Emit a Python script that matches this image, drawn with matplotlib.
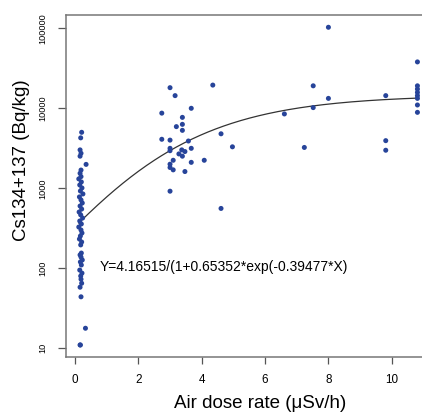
import numpy as np
import matplotlib.pyplot as plt

plt.rcParams['font.family'] = ['Liberation Sans', 'DejaVu Sans']

# Nahe der Quelle (<0.4 uSv/h)
dose_low = [0.21, 0.18, 0.16, 0.19, 0.16, 0.35, 0.19, 0.16, 0.19,
            0.12, 0.20, 0.15, 0.22, 0.17, 0.25, 0.14, 0.19, 0.23, 0.16,
            0.21, 0.13, 0.18, 0.24, 0.15, 0.20, 0.12, 0.19, 0.22, 0.17,
            0.14, 0.21, 0.18, 0.20, 0.16, 0.19, 0.23, 0.17, 0.20, 0.15,
            0.22, 0.18, 0.19, 0.21, 0.16, 0.19, 0.17, 0.33, 0.16]
cs_low = [5010, 4270, 3020, 2740, 2520, 1990, 1690, 1540, 1400,
          1310, 1200, 1100, 1010, 925, 850, 780, 715, 655, 600,
          550, 505, 465, 425, 390, 358, 328, 301, 276, 253,
          232, 213, 196, 155, 147, 138, 127, 120, 110, 95,
          87, 80, 73, 65, 58, 44, 11, 17.8, 11.0]

# 2.5 - 5 uSv/h
dose_mid = [3.00, 3.16, 4.35, 2.74, 3.67, 3.39, 3.39, 3.20, 3.39, 2.74,
            3.00, 3.58, 4.61, 4.97, 3.00, 3.00, 3.37, 3.47, 3.28, 3.39,
            3.67, 3.10, 4.08, 3.00, 3.00, 3.10, 3.67, 3.47, 3.00, 4.61]
cs_mid = [18100, 14400, 19500, 8700, 10000, 7700, 6300, 5900, 5300, 4100,
          4000, 3900, 4800, 3300, 3160, 2950, 3020, 2880, 2690, 2520,
          3160, 2240, 2240, 2000, 1820, 1700, 2110, 1620, 920, 560]

# > 6 uSv/h
dose_high = [7.52, 8.00, 7.52, 6.61, 7.24, 9.81, 9.81, 9.81, 8.00,
             10.81, 10.81, 10.81, 10.81, 10.81, 10.81, 10.81, 10.81]
cs_high = [19100, 13300, 10200, 8500, 3240, 14400, 3940, 2990, 103000,
           38000, 19100, 17400, 15800, 14400, 13300, 11000, 8900]

# Anpassung (log10-Skala): Y = a/(1+b*exp(-c*X))
fit_a, fit_b, fit_c = 4.16515, 0.65352, 0.39477
fit_label = "Y=4.16515/(1+0.65352*exp(-0.39477*X)"

x_all = np.array(dose_low + dose_mid + dose_high)
y_all = np.array(cs_low + cs_mid + cs_high)

fig = plt.figure(figsize=(4.22, 4.15), dpi=100)
W, H = 422, 415
# Achse breiter als die Figur (rechter Rand ist im Original abgeschnitten)
left_px, right_px, top_px, bot_px = 66, 432, 14.7, 357
ax = fig.add_axes([left_px / W, 1 - bot_px / H,
                   (right_px - left_px) / W, (bot_px - top_px) / H])

ax.scatter(x_all, y_all, s=13, color='#27449a', edgecolors='none', zorder=3)

xx = np.linspace(x_all.min(), x_all.max(), 300)
ax.plot(xx, 10 ** (fit_a / (1 + fit_b * np.exp(-fit_c * xx))),
        color='#333333', lw=0.9, zorder=2)

ax.set_yscale('log')
ax.set_xlim(-0.284, 11.27)
ax.set_ylim(10 ** 0.891, 10 ** 5.17)
ax.set_xticks([0, 2, 4, 6, 8, 10])
ax.set_yticks([10, 100, 1000, 10000, 100000])
ax.set_yticklabels(['10', '100', '1000', '10000', '100000'],
                   rotation=90, va='center', fontsize=6.6)
ax.minorticks_off()
ax.tick_params(axis='x', labelsize=8.4, length=5, width=0.9,
               color='#555555', pad=7)
ax.tick_params(axis='y', length=5.5, width=0.9, color='#555555', pad=8)

for side in ['left', 'bottom', 'top']:
    ax.spines[side].set_color('#777777')
    ax.spines[side].set_linewidth(1.1)
ax.spines['right'].set_visible(False)

ax.text(0.79, 10 ** 2.02, fit_label, fontsize=10, va='center', ha='left')

fig.text(260 / W, 1 - 403 / H, 'Air dose rate (\u03bcSv/h)',
         ha='center', va='center', fontsize=13.5)
fig.text(22 / W, 1 - 160 / H, 'Cs134+137 (Bq/kg)', rotation=90,
         ha='center', va='center', fontsize=13.5)

fig.savefig('out.png', dpi=100)
